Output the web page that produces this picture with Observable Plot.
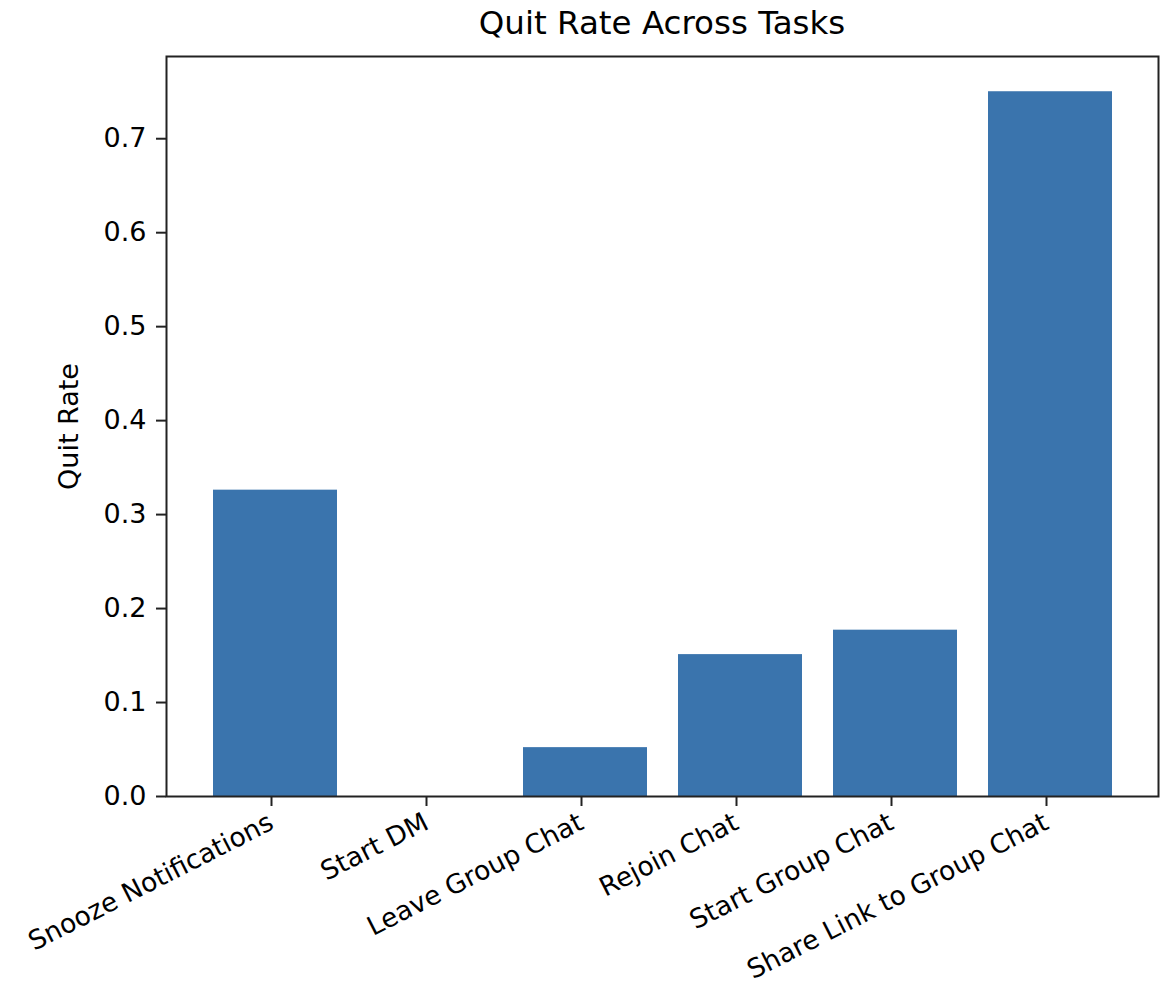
<!DOCTYPE html>
<html>
<head>
<meta charset="utf-8">
<script src="https://cdn.jsdelivr.net/npm/d3@7"></script>
<script src="https://cdn.jsdelivr.net/npm/@observablehq/plot@0.6"></script>
<style>
  html, body { margin: 0; padding: 0; background: #fff; }
  body { width: 1166px; height: 988px; overflow: hidden; font-family: "DejaVu Sans", sans-serif; }
  #title { box-sizing: border-box; height: 48px; margin-left: 166px; width: 992px; text-align: center;
           font-size: 32.5px; line-height: 32px; padding-top: 7px; color: #000; }
  svg { display: block; }
</style>
</head>
<body>
<div id="title">Quit Rate Across Tasks</div>
<div id="chart"></div>
<script>
const tasks = ["Snooze Notifications", "Start DM", "Leave Group Chat", "Rejoin Chat", "Start Group Chat", "Share Link to Group Chat"];
const quitRates = [0.326, 0.0, 0.052, 0.151, 0.177, 0.75];
const yTicks = [0, 0.1, 0.2, 0.3, 0.4, 0.5, 0.6, 0.7];

const data = tasks.map((t, i) => ({task: t, rate: quitRates[i]}));

const chart = Plot.plot({
  width: 1166,
  height: 940,
  marginTop: 8,
  marginBottom: 192,
  marginLeft: 166,
  marginRight: 8,
  style: {fontFamily: "DejaVu Sans, sans-serif", color: "#000", background: "#fff"},
  x: {type: "band", domain: tasks, paddingInner: 0.2, paddingOuter: 0.29},
  y: {domain: [0, 0.7875]},
  marks: [
    Plot.barY(data, {x: "task", y: "rate", fill: "#3a74ad"}),
    Plot.axisY({ticks: yTicks, tickFormat: d3.format(".1f"), tickSize: 10, tickPadding: 10, fontSize: 27,
      stroke: "#222", strokeWidth: 2, label: "Quit Rate", labelAnchor: "center", labelArrow: "none", labelOffset: 108}),
    Plot.axisX({tickSize: 10, tickPadding: 14, fontSize: 26.5, tickRotate: -27, dx: -4, stroke: "#222", strokeWidth: 2, label: null}),
    Plot.frame({stroke: "#222", strokeWidth: 2})
  ]
});
document.getElementById("chart").appendChild(chart);
</script>
</body>
</html>
